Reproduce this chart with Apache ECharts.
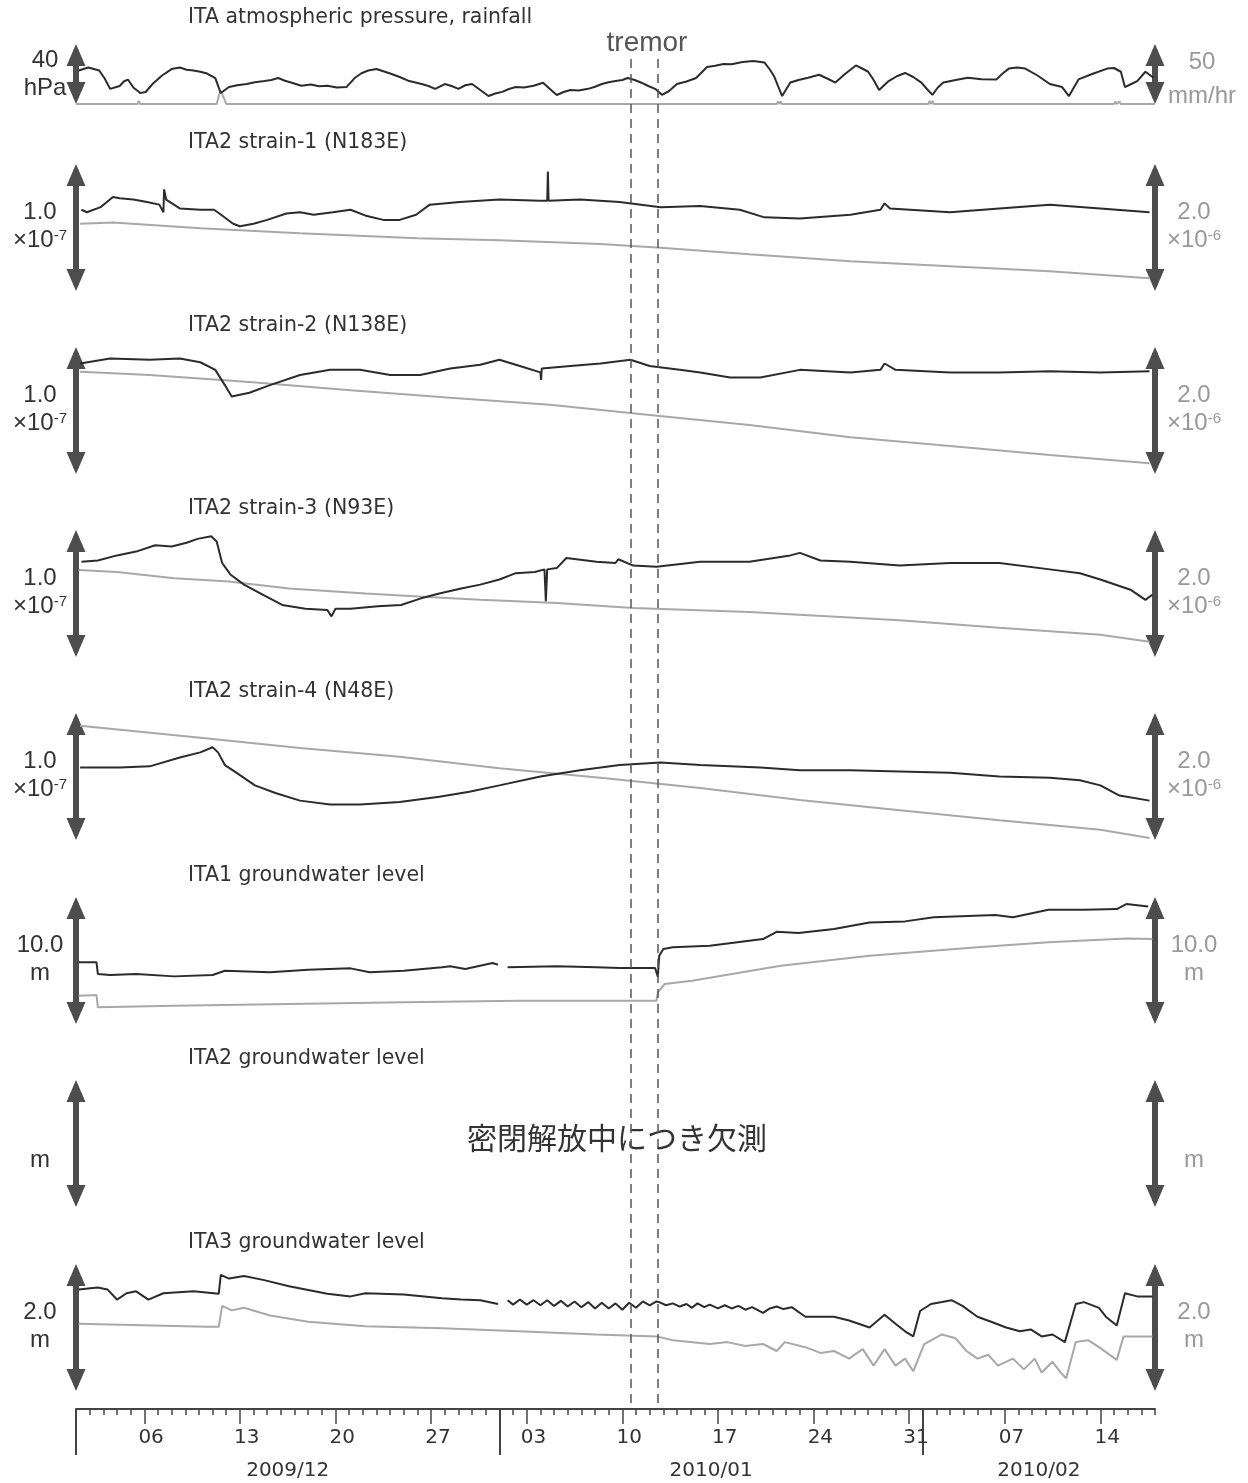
<!DOCTYPE html>
<html>
<head>
<meta charset="utf-8">
<title>ITA observation</title>
<script src="https://cdn.jsdelivr.net/npm/echarts@6/dist/echarts.min.js"></script>
<style>html,body{margin:0;padding:0;background:#fff;}#chart{width:1248px;height:1483px;}</style>
</head>
<body>
<div id="chart"></div>
<script>
// ---- time axis: x = days since 2009-12-01 00:00 ----
const dayCount = 79;
const weekTickDays = [5,12,19,26,33,40,47,54,61,68,75];
const weekTickLabels = ['06','13','20','27','03','10','17','24','31','07','14'];
const monthTickDays = [0,31,62];
const monthLabelDays = [15.5,46.5,70.5];
const monthLabels = ['2009/12','2010/01','2010/02'];
const tremorDays = [40.65,42.6];

// ---- ITA atmospheric pressure (hPa) and rainfall (mm/hr) ----
const pressure = [[0.2,1012.3],[0.9,1014.3],[1.7,1012.3],[2.1,1007],[2.5,1000.1],[3.2,1002],[3.5,1005],[3.8,1006.3],[4.2,1001],[4.7,997.3],[5.1,998],[5.6,1003.3],[6.3,1009],[7.0,1013.3],[7.6,1014.3],[8.1,1012.8],[8.6,1012.3],[9.1,1011.5],[9.6,1010.3],[10.2,1007.3],[10.6,997.3],[11.2,1001.3],[11.8,1002.5],[12.5,1003.3],[13.1,1004.5],[13.8,1005.3],[14.3,1006],[14.8,1007.3],[15.3,1005.5],[15.8,1004.2],[16.5,1002.2],[17.2,1003],[17.8,1001.8],[18.4,1002.2],[19.1,1001],[19.8,1001.3],[20.4,1007.3],[20.9,1010.5],[21.4,1012.3],[22.0,1013.3],[22.5,1011.8],[23.0,1010.3],[23.7,1008],[24.4,1005.3],[25.3,1003.3],[25.8,1002],[26.3,1000.1],[27.0,1003.3],[27.5,1002],[28.0,1000.1],[28.5,1002.5],[29.0,1003.3],[29.6,999.3],[30.2,995.3],[30.7,997],[31.2,998.1],[31.7,1000],[32.2,1001.3],[32.8,1001],[33.5,1002.2],[34.2,1004.2],[34.7,1000],[35.2,996],[35.7,998],[36.2,999.3],[36.8,999],[37.5,1000.1],[38.0,1001.5],[38.5,1003.3],[39.0,1004.5],[39.5,1005.3],[40.0,1006],[40.4,1007.3],[40.9,1006],[41.4,1004.2],[41.9,1002],[42.4,1000.1],[42.9,996.1],[43.4,998.5],[44.0,1003.3],[44.7,1005],[45.4,1007.3],[46.2,1014.7],[46.8,1015.5],[47.4,1016.7],[48.0,1016.5],[48.8,1018],[49.6,1018.7],[50.4,1017.7],[50.8,1013],[51.1,1008.7],[51.7,995.3],[52.3,1004.3],[52.9,1006],[53.6,1007.5],[54.4,1009.5],[55.0,1007],[55.6,1004.3],[56.3,1010],[57.1,1015.7],[57.6,1013.5],[58.0,1011.5],[58.4,1006],[58.8,999.3],[59.5,1005.3],[60.1,1008.5],[60.7,1010.7],[61.3,1008],[61.9,1004.3],[62.3,1000],[62.7,996.1],[63.1,1001],[63.5,1004.3],[64.4,1006],[65.3,1007.5],[66.3,1006.5],[67.4,1006.4],[67.8,1010],[68.3,1013.6],[68.9,1014.3],[69.5,1013.6],[70.4,1009],[71.3,1003.3],[72.2,1001.3],[72.7,995.3],[73.4,1006.4],[74.4,1010],[75.5,1013.6],[76.0,1014],[76.5,1011.5],[76.8,1001.3],[77.3,1003.5],[77.7,1005.3],[78.3,1011.5],[78.9,1007.5]];
const rainfall = [[0,0],[2.5,0],[2.6,1.5],[2.7,0],[4.5,0],[4.6,2.5],[4.7,0],[10.3,0],[10.4,4],[10.45,7],[10.5,8],[10.55,10],[10.6,11],[10.65,10],[10.7,9],[10.75,7],[10.8,6],[10.9,3],[11.0,0],[11.3,0],[11.4,1.5],[11.5,0],[51.3,0],[51.4,2],[51.5,0],[51.6,2],[51.7,0],[58.5,0],[58.6,1.5],[58.7,0],[61.5,0],[61.6,1.5],[61.7,0],[62.4,0],[62.5,2.5],[62.6,0],[62.7,2.5],[62.8,0],[72.6,0],[72.7,1.5],[72.8,0],[76.0,0],[76.1,2],[76.2,0],[76.4,2],[76.5,0],[79,0]];

// ---- ITA2 strain (corrected: x1e-7, raw: x1e-6) ----
const strain1Corr = [[0.4,0.64],[0.8,0.62],[1.8,0.66],[2.7,0.74],[3.2,0.73],[4.2,0.72],[5.2,0.70],[6.1,0.68],[6.4,0.62],[6.45,0.80],[6.6,0.72],[7.6,0.65],[9.1,0.64],[10.1,0.64],[10.5,0.61],[11.5,0.53],[12.0,0.51],[13.0,0.53],[14.0,0.56],[15.4,0.61],[16.4,0.62],[17.4,0.60],[18.8,0.62],[20.1,0.64],[21.3,0.59],[22.5,0.56],[23.7,0.56],[24.9,0.60],[25.9,0.68],[28.1,0.70],[31.0,0.72],[34.0,0.71],[34.5,0.71],[34.55,0.94],[34.6,0.71],[36.9,0.72],[39.8,0.70],[42.8,0.66],[45.7,0.67],[48.6,0.64],[50.4,0.58],[53.0,0.57],[56.7,0.60],[58.9,0.64],[59.2,0.69],[59.6,0.65],[64.0,0.62],[67.6,0.65],[71.3,0.68],[75.0,0.65],[78.6,0.62]];
const strain1Raw = [[0.3,1.06],[2.7,1.08],[9.1,0.99],[16.4,0.91],[25.0,0.83],[31.0,0.80],[38.4,0.74],[42.8,0.68],[49.3,0.58],[56.7,0.47],[64.0,0.39],[71.3,0.31],[78.6,0.20]];
const strain2Corr = [[0.3,0.87],[2.5,0.91],[5.4,0.90],[7.6,0.91],[9.1,0.88],[10.2,0.82],[10.9,0.70],[11.4,0.61],[12.7,0.64],[14.2,0.70],[16.4,0.78],[18.6,0.82],[20.8,0.82],[23.0,0.78],[25.2,0.78],[27.4,0.83],[29.6,0.86],[31.0,0.90],[32.5,0.85],[34.0,0.80],[34.05,0.74],[34.1,0.83],[36.2,0.85],[38.4,0.87],[40.6,0.90],[42.0,0.85],[44.2,0.82],[45.7,0.80],[47.9,0.76],[50.1,0.76],[53.0,0.82],[56.7,0.80],[58.9,0.82],[59.2,0.87],[60.0,0.82],[64.0,0.80],[67.6,0.80],[71.3,0.81],[75.0,0.80],[78.6,0.81]];
const strain2Raw = [[0.3,1.61],[5.4,1.56],[12.7,1.45],[20.1,1.32],[27.4,1.20],[34.7,1.09],[42.0,0.93],[49.3,0.77],[56.7,0.58],[64.0,0.44],[71.3,0.30],[78.6,0.17]];
const strain3Corr = [[0.4,0.75],[1.6,0.76],[3.0,0.80],[4.4,0.83],[5.8,0.88],[7.0,0.87],[8.1,0.90],[8.9,0.93],[9.9,0.95],[10.3,0.91],[10.7,0.74],[11.3,0.65],[12.3,0.57],[13.7,0.49],[15.1,0.41],[16.8,0.38],[18.4,0.37],[18.7,0.32],[19.0,0.38],[20.1,0.38],[22.1,0.40],[23.8,0.41],[25.2,0.46],[26.6,0.50],[28.2,0.54],[29.6,0.57],[31.0,0.61],[32.2,0.66],[33.6,0.67],[34.3,0.69],[34.4,0.44],[34.5,0.69],[35.2,0.70],[35.9,0.78],[38.1,0.75],[39.5,0.74],[39.7,0.77],[40.8,0.72],[42.5,0.71],[45.7,0.75],[49.3,0.75],[52.3,0.80],[53.0,0.82],[54.5,0.76],[56.7,0.75],[60.3,0.72],[64.0,0.74],[67.6,0.74],[71.3,0.69],[73.5,0.66],[75.0,0.61],[77.2,0.53],[78.3,0.45],[78.8,0.49]];
const strain3Raw = [[0.2,1.37],[3.0,1.34],[7.2,1.24],[11.2,1.19],[15.6,1.08],[21.2,1.00],[25.4,0.95],[29.6,0.90],[35.2,0.85],[40.8,0.77],[49.3,0.71],[60.3,0.58],[67.6,0.46],[75.0,0.35],[78.6,0.24]];
const strain4Corr = [[0.3,0.57],[3.2,0.57],[5.4,0.58],[7.6,0.65],[9.1,0.69],[10.0,0.73],[10.4,0.69],[10.9,0.59],[11.6,0.54],[13.1,0.43],[14.6,0.37],[16.4,0.31],[18.6,0.28],[20.8,0.28],[23.7,0.30],[26.6,0.34],[28.8,0.38],[31.0,0.43],[34.0,0.50],[36.9,0.55],[39.8,0.59],[42.8,0.61],[45.7,0.59],[50.1,0.57],[53.0,0.55],[56.7,0.55],[60.3,0.54],[64.0,0.53],[67.6,0.50],[71.3,0.49],[73.5,0.47],[75.0,0.43],[76.4,0.35],[78.6,0.31]];
const strain4Raw = [[0.3,1.80],[9.1,1.61],[16.4,1.45],[23.7,1.31],[31.0,1.13],[38.4,0.98],[45.7,0.82],[53.0,0.63],[60.3,0.47],[67.6,0.31],[75.0,0.16],[78.6,0.03]];

// ---- groundwater level (m) ----
const gw1Level = [[0.2,4.86],[1.5,4.86],[1.6,3.94],[2.5,3.86],[4.4,3.94],[7.2,3.75],[10.0,3.86],[10.9,4.19],[14.2,4.07],[17.0,4.27],[20.1,4.38],[21.5,4.07],[24.0,4.19],[26.8,4.46],[27.4,4.54],[28.5,4.33],[30.5,4.80],[30.9,4.67],[31.25,null],[31.6,4.46],[35.2,4.54],[38.1,4.46],[39.8,4.41],[42.4,4.41],[42.6,3.70],[42.7,5.38],[43.0,5.90],[43.7,6.04],[46.4,6.16],[50.3,6.69],[51.3,7.26],[52.9,7.16],[55.5,7.48],[58.1,8.00],[60.7,8.08],[62.8,8.40],[67.3,8.58],[68.6,8.40],[71.2,9.00],[73.8,9.00],[76.2,9.05],[76.9,9.44],[78.5,9.26]];
const gw1Raw = [[0.2,2.23],[1.5,2.28],[1.6,1.31],[7.2,1.44],[15.6,1.57],[24.0,1.71],[32.4,1.83],[42.5,1.83],[42.6,2.49],[43.1,3.15],[45.1,3.41],[51.6,4.59],[58.1,5.38],[66.0,6.04],[71.2,6.43],[76.9,6.74],[78.8,6.69]];
const gw3Level = [[0.2,1.60],[1.6,1.63],[2.3,1.60],[3.0,1.44],[3.7,1.54],[4.4,1.57],[5.3,1.44],[6.4,1.54],[8.6,1.57],[10.45,1.53],[10.6,1.83],[11.2,1.77],[12.3,1.81],[13.7,1.75],[15.6,1.65],[18.4,1.53],[20.1,1.49],[21.2,1.54],[24.0,1.52],[26.8,1.46],[28.2,1.44],[29.6,1.43],[30.9,1.37],[31.25,null],[31.6,1.43],[32.0,1.36],[32.5,1.44],[33.0,1.36],[33.5,1.43],[34.0,1.35],[34.5,1.43],[35.0,1.34],[35.5,1.42],[36.0,1.33],[36.5,1.41],[37.0,1.32],[37.5,1.40],[38.0,1.30],[38.5,1.39],[39.0,1.30],[39.5,1.38],[40.0,1.28],[40.5,1.39],[41.0,1.31],[41.5,1.41],[42.0,1.35],[42.5,1.41],[42.7,1.40],[43.2,1.35],[43.7,1.38],[44.2,1.33],[44.7,1.37],[45.1,1.31],[45.5,1.38],[46.0,1.32],[46.4,1.36],[47.0,1.30],[47.5,1.35],[48.0,1.30],[48.5,1.34],[49.0,1.28],[49.5,1.32],[50.3,1.23],[50.8,1.30],[51.3,1.33],[51.8,1.29],[52.4,1.32],[53.4,1.17],[54.5,1.17],[55.5,1.17],[56.6,1.11],[58.1,1.00],[59.2,1.20],[60.0,1.06],[60.7,0.94],[61.3,0.86],[61.8,1.26],[62.6,1.37],[63.4,1.40],[64.1,1.43],[64.9,1.34],[66.0,1.17],[67.0,1.09],[68.1,1.00],[69.1,0.94],[69.9,0.97],[70.7,0.86],[71.5,0.89],[72.4,0.77],[73.2,1.37],[73.8,1.40],[74.9,1.31],[75.4,1.17],[76.2,1.03],[76.8,1.54],[77.7,1.49],[78.8,1.49]];
const gw3Raw = [[0.2,1.06],[9.6,1.01],[10.45,1.01],[10.7,1.34],[11.4,1.27],[12.3,1.31],[14.2,1.19],[17.0,1.09],[21.2,1.02],[26.8,0.99],[32.4,0.94],[38.1,0.89],[42.5,0.86],[43.7,0.80],[46.4,0.74],[47.7,0.77],[49.0,0.71],[50.3,0.74],[51.3,0.63],[51.9,0.77],[53.4,0.69],[54.5,0.60],[55.5,0.63],[56.6,0.51],[57.6,0.66],[58.4,0.40],[59.2,0.66],[60.0,0.40],[60.7,0.51],[61.3,0.31],[62.1,0.74],[63.4,0.89],[64.4,0.83],[65.2,0.63],[66.0,0.51],[66.8,0.57],[67.5,0.40],[68.6,0.51],[69.4,0.34],[70.2,0.51],[70.7,0.29],[71.5,0.46],[72.1,0.29],[72.5,0.20],[73.2,0.77],[74.1,0.80],[74.9,0.69],[76.2,0.49],[76.7,0.86],[78.8,0.86]];

// ---- layout ----
const panels = [
  {title:'ITA atmospheric pressure, rainfall', top:44, bottom:104, titleY:18,
   lRange:[990,1030], rRange:[0,50], lText:['40','hPa'], rText:['50','mm/hr'], lY:[60,88], rY:[62,96], lX:45, rX:1202,
   dark:pressure, gray:rainfall},
  {title:'ITA2 strain-1 (N183E)', top:164, bottom:291, lRange:[0,1], rRange:[0,2],
   lText:['1.0','×10{s|-7}'], rText:['2.0','×10{s|-6}'], dark:strain1Corr, gray:strain1Raw},
  {title:'ITA2 strain-2 (N138E)', top:347, bottom:474, lRange:[0,1], rRange:[0,2],
   lText:['1.0','×10{s|-7}'], rText:['2.0','×10{s|-6}'], dark:strain2Corr, gray:strain2Raw},
  {title:'ITA2 strain-3 (N93E)', top:530, bottom:657, lRange:[0,1], rRange:[0,2],
   lText:['1.0','×10{s|-7}'], rText:['2.0','×10{s|-6}'], dark:strain3Corr, gray:strain3Raw},
  {title:'ITA2 strain-4 (N48E)', top:713, bottom:840, lRange:[0,1], rRange:[0,2],
   lText:['1.0','×10{s|-7}'], rText:['2.0','×10{s|-6}'], dark:strain4Corr, gray:strain4Raw},
  {title:'ITA1 groundwater level', top:897, bottom:1024, lRange:[0,10], rRange:[0,10],
   lText:['10.0','m'], rText:['10.0','m'], dark:gw1Level, gray:gw1Raw},
  {title:'ITA2 groundwater level', top:1080, bottom:1207, lRange:[0,1], rRange:[0,1],
   lText:['m'], rText:['m'], dark:null, gray:null},
  {title:'ITA3 groundwater level', top:1264, bottom:1391, lRange:[0,2], rRange:[0,2],
   lText:['2.0','m'], rText:['2.0','m'], dark:gw3Level, gray:gw3Raw}
];

const DARK = '#2b2b2b', GRAY = '#a8a8a8', ARROW = '#4d4d4d';
const PAD = 8;
const option = {animation:false, backgroundColor:'#fff', grid:[], xAxis:[], yAxis:[], series:[], graphic:[]};

function labelText(x, y, text, color) {
  return {type:'text', x:x, y:y, silent:true, z:100,
    style:{text:text, fill:color, fontSize:24, fontFamily:'Liberation Sans, Arial, sans-serif',
      align:'center', verticalAlign:'middle',
      rich:{s:{fontSize:15, fill:color, fontFamily:'Liberation Sans, Arial, sans-serif', verticalAlign:'top', padding:[0,0,9,0]}}}};
}

panels.forEach((p, i) => {
  const L = p.bottom - p.top;
  option.grid.push({left:76, right:93, top:p.top + PAD, height:L - 2 * PAD});
  option.xAxis.push({gridIndex:i, type:'value', min:0, max:dayCount, show:false});
  [p.lRange, p.rRange].forEach((r, k) => {
    const d = (r[1] - r[0]) * PAD / L;
    option.yAxis.push({gridIndex:i, type:'value', position:k ? 'right' : 'left', min:r[0] + d, max:r[1] - d,
      axisLine:{show:true, onZero:false, symbol:['triangle','triangle'], symbolSize:[19,22], symbolOffset:[3,-3],
        lineStyle:{color:ARROW, width:6}},
      axisTick:{show:false}, axisLabel:{show:false}, splitLine:{show:false}});
  });
  option.series.push({type:'line', xAxisIndex:i, yAxisIndex:2*i+1, data:p.gray || [], showSymbol:false, symbol:'none',
    clip:false, lineStyle:{color:GRAY, width:2}, z:2});
  option.series.push({type:'line', xAxisIndex:i, yAxisIndex:2*i, data:p.dark || [], showSymbol:false, symbol:'none',
    clip:false, lineStyle:{color:DARK, width:2}, z:3});
  option.graphic.push({type:'text', x:188, y:p.titleY || (p.top - 21), silent:true,
    style:{text:p.title, fill:'#333', fontSize:20.5, fontFamily:'DejaVu Sans, Verdana, sans-serif', align:'left', verticalAlign:'middle'}});
  const lY = p.lY || (p.lText.length === 1 ? [p.top + 80] : [p.top + 48, p.top + 76]);
  const rY = p.rY || lY;
  p.lText.forEach((t, j) => option.graphic.push(labelText(p.lX || 40, lY[j], t, '#333')));
  p.rText.forEach((t, j) => option.graphic.push(labelText(p.rX || 1194, rY[j], t, '#999')));
});

// ---- bottom time axis ----
const dayTicks = [];
for (let d = 0; d <= dayCount; d++) dayTicks.push(d);
const weekLabelDays = weekTickDays.map(d => d + 0.5);
option.grid.push({left:76, right:93, top:1380, height:29});
const axisFont = {fontSize:20, fontFamily:'DejaVu Sans, Verdana, sans-serif', color:'#333'};
option.xAxis.push({gridIndex:8, type:'value', min:0, max:dayCount, position:'bottom',
  axisLine:{show:true, onZero:false, lineStyle:{color:'#444', width:2}},
  axisTick:{show:true, customValues:dayTicks, length:6, lineStyle:{color:'#444', width:1.5}},
  axisLabel:{show:false}, splitLine:{show:false}});
option.xAxis.push({gridIndex:8, type:'value', min:0, max:dayCount, position:'bottom',
  axisLine:{show:false, onZero:false},
  axisTick:{show:true, customValues:weekTickDays, length:15, lineStyle:{color:'#444', width:1.5}},
  axisLabel:Object.assign({show:true, customValues:weekLabelDays, margin:19,
    formatter:v => weekTickLabels[weekLabelDays.indexOf(v)]}, axisFont),
  splitLine:{show:false}});
option.xAxis.push({gridIndex:8, type:'value', min:0, max:dayCount, position:'bottom',
  axisLine:{show:false, onZero:false},
  axisTick:{show:true, customValues:monthTickDays, length:46, lineStyle:{color:'#444', width:2}},
  axisLabel:Object.assign({show:true, customValues:monthLabelDays, margin:52,
    formatter:v => monthLabels[monthLabelDays.indexOf(v)]}, axisFont),
  splitLine:{show:false}});
option.yAxis.push({gridIndex:8, type:'value', min:0, max:1, show:false});
option.series.push({type:'line', xAxisIndex:8, yAxisIndex:16, data:[]});

// ---- tremor period overlay ----
option.grid.push({left:76, right:93, top:55, height:1348});
option.xAxis.push({gridIndex:9, type:'value', min:0, max:dayCount, show:false});
option.yAxis.push({gridIndex:9, type:'value', min:0, max:1, show:false});
option.series.push({type:'line', xAxisIndex:11, yAxisIndex:17, data:[], z:5,
  markLine:{silent:true, symbol:'none', label:{show:false},
    lineStyle:{color:'#555', width:1.5, type:[9,6]},
    data:tremorDays.map(d => ({xAxis:d}))}});

option.graphic.push({type:'text', x:647, y:43, silent:true,
  style:{text:'tremor', fill:'#555', fontSize:28, fontFamily:'Liberation Sans, Arial, sans-serif', align:'center', verticalAlign:'middle'}});
option.graphic.push({type:'text', x:617, y:1138, silent:true,
  style:{text:'密閉解放中につき欠測', fill:'#333', fontSize:30, fontFamily:'Noto Sans CJK JP, sans-serif', align:'center', verticalAlign:'middle'}});

const chart = echarts.init(document.getElementById('chart'), null, {renderer:'canvas'});
chart.setOption(option);
</script>
</body>
</html>
